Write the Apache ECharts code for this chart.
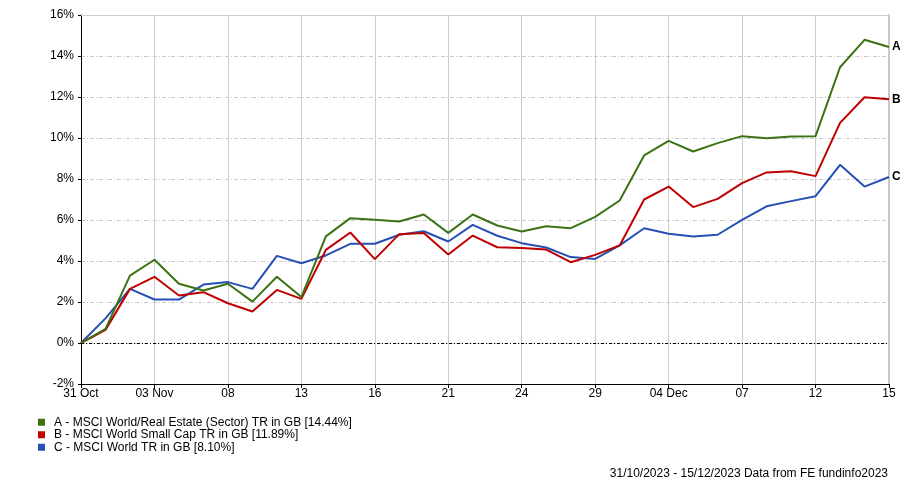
<!DOCTYPE html>
<html><head><meta charset="utf-8">
<script src="https://cdn.jsdelivr.net/npm/echarts@6/dist/echarts.min.js"></script>
<style>html,body{margin:0;padding:0;background:#fff}#c{width:900px;height:484px}</style>
</head><body><div id="c"></div>
<script>
const dates = ['31 Oct','01 Nov','02 Nov','03 Nov','06 Nov','07 Nov','08 Nov','09 Nov','10 Nov','13 Nov','14 Nov','15 Nov','16 Nov','17 Nov','20 Nov','21 Nov','22 Nov','23 Nov','24 Nov','27 Nov','28 Nov','29 Nov','30 Nov','01 Dec','04 Dec','05 Dec','06 Dec','07 Dec','08 Dec','11 Dec','12 Dec','13 Dec','14 Dec','15 Dec'];
const tickLabels = ['31 Oct','03 Nov','08','13','16','21','24','29','04 Dec','07','12','15'];
const seriesNames = ['A - MSCI World/Real Estate (Sector) TR in GB [14.44%]','B - MSCI World Small Cap TR in GB [11.89%]','C - MSCI World TR in GB [8.10%]'];
const endTags = ['A','B','C'];
const seriesA = [0,0.69,3.29,4.06,2.89,2.56,2.89,2.02,3.23,2.24,5.2,6.09,6.01,5.93,6.27,5.37,6.27,5.73,5.44,5.7,5.6,6.15,6.95,9.15,9.86,9.34,9.75,10.09,9.99,10.07,10.09,13.45,14.79,14.44];
const seriesB = [0,0.64,2.64,3.23,2.32,2.48,1.94,1.54,2.59,2.15,4.54,5.39,4.09,5.31,5.37,4.32,5.24,4.67,4.64,4.56,3.94,4.3,4.76,7.0,7.63,6.63,7.03,7.8,8.32,8.38,8.14,10.74,11.99,11.89];
const seriesC = [0,1.2,2.64,2.12,2.12,2.85,2.97,2.64,4.25,3.89,4.27,4.84,4.84,5.28,5.45,4.95,5.76,5.23,4.87,4.66,4.19,4.1,4.76,5.6,5.33,5.2,5.28,6.01,6.67,6.92,7.16,8.69,7.63,8.10];
const colors = ['#3b7212','#c00000','#2650b4'];
const FONT = '"Liberation Sans", Arial, sans-serif';

const chart = echarts.init(document.getElementById('c'), null, {renderer:'canvas'});
const all = [seriesA, seriesB, seriesC];
const series = all.map((d, k) => ({
  name: seriesNames[k], type: 'line', data: d, symbol: 'none',
  lineStyle: {width: 2, color: colors[k]}, itemStyle: {color: colors[k]},
  z: 5 - k,
  endLabel: {show: true, formatter: endTags[k], fontWeight: 'bold', fontSize: 12, color: '#000', fontFamily: FONT, distance: 3},
  markLine: k === 0 ? {silent: true, symbol: 'none', label: {show: false},
    lineStyle: {color: '#000', type: [3,2,1,2], width: 1}, data: [{yAxis: 0}]} : undefined
}));

chart.setOption({
  animation: false,
  color: colors,
  textStyle: {fontFamily: FONT},
  grid: {left: 81, right: 11, top: 15, height: 369},
  legend: {orient: 'vertical', left: 33, top: 411, itemWidth: 7, itemHeight: 7, itemGap: 0,
    icon: 'rect', textStyle: {fontSize: 12, lineHeight: 12.5, color: '#000', fontFamily: FONT, padding: [0,0,0,4]},
    data: seriesNames},
  xAxis: [{
    type: 'category', data: dates, boundaryGap: false,
    axisLine: {lineStyle: {color: '#000', width: 1}, onZero: false},
    axisTick: {show: true, interval: 2, length: 4, lineStyle: {color: '#000'}},
    axisLabel: {interval: 2, fontSize: 12, color: '#000', margin: 4, fontFamily: FONT,
      formatter: (v, i) => tickLabels[Math.round(i / 3)]},
    splitLine: {show: true, interval: 2, lineStyle: {color: '#cccccc', width: 1}}
  }, {
    type: 'category', data: dates, boundaryGap: false, position: 'top',
    axisLine: {lineStyle: {color: '#cccccc', width: 1}, onZero: false}, axisTick: {show: false}, axisLabel: {show: false}
  }],
  yAxis: [{
    type: 'value', min: -2, max: 16, interval: 2,
    axisLine: {show: true, lineStyle: {color: '#000', width: 1}},
    axisTick: {show: true, length: 3, lineStyle: {color: '#000'}},
    axisLabel: {formatter: '{value}%', fontSize: 12, color: '#000', margin: 7, fontFamily: FONT},
    splitLine: {show: true, lineStyle: {color: '#c8c8c8', type: [4,2,1,2], width: 1}}
  }, {
    type: 'value', min: -2, max: 16, interval: 2, position: 'right',
    axisLine: {show: true, onZero: false, lineStyle: {color: '#c8c8c8', width: 2}},
    axisTick: {show: false}, axisLabel: {show: false}, splitLine: {show: false}
  }],
  graphic: [{type: 'text', right: 12, top: 468,
    style: {text: '31/10/2023 - 15/12/2023 Data from FE fundinfo2023', fill: '#000', font: '12px ' + FONT}}],
  series: series
});
</script></body></html>
